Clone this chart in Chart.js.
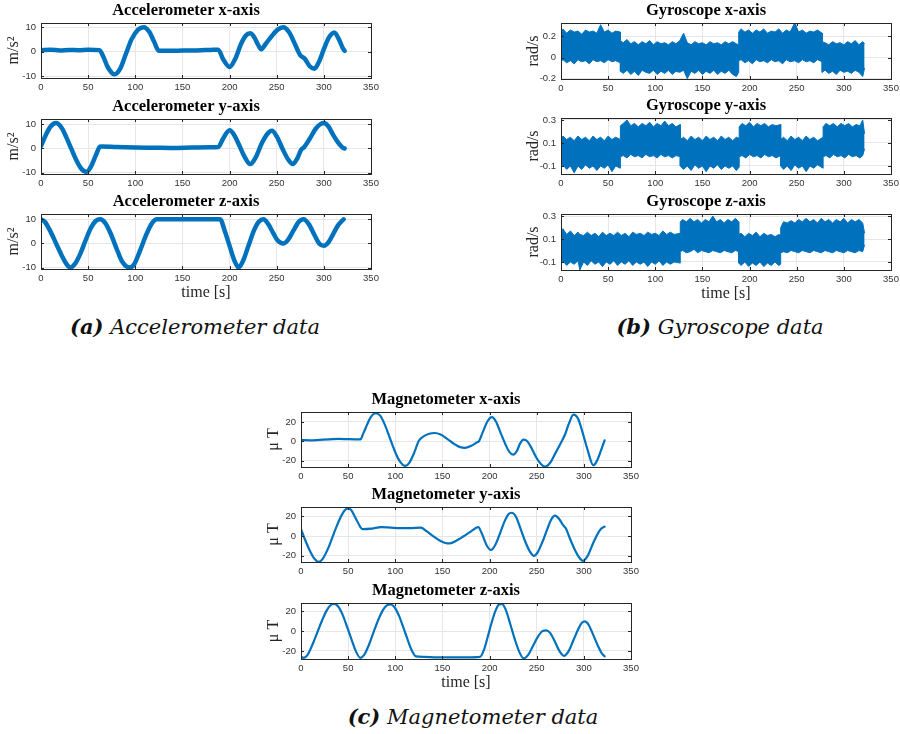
<!DOCTYPE html>
<html>
<head>
<meta charset="utf-8">
<script src="https://cdn.jsdelivr.net/npm/chart.js@4.4.1/dist/chart.umd.min.js"></script>
<style>
body { margin: 0; background: #fff; }
#page { position: relative; width: 900px; height: 734px; overflow: hidden; background: #fff; }
#page canvas { position: absolute; }
.caption { position: absolute; width: 340px; text-align: center; white-space: nowrap;
  font-family: 'DejaVu Serif', serif; font-style: italic; font-size: 21px; color: #111; }
</style>
</head>
<body>
<div id="page">
  <div class="caption" style="left:25px;top:314px"><b>(a)</b> Accelerometer data</div>
  <div class="caption" style="left:550px;top:314px"><b>(b)</b> Gyroscope data</div>
  <div class="caption" style="left:303px;top:704px"><b>(c)</b> Magnetometer data</div>
</div>
<script>
// tick labels
const timeTicks = [0, 50, 100, 150, 200, 250, 300, 350];
const accTicks = [-10, 0, 10];
const gyroXTicks = [-0.2, 0, 0.2];
const gyroTicks = [-0.1, 0, 0.1, 0.2, 0.3];
const magTicks = [-20, 0, 20];

// accelerometer [time s, m/s^2]
const accX = [[0, 0.6], [10, 0.8], [20, 0.5], [30, 0.7], [40, 0.6], [50, 0.8], [62, 0.6], [66, -2], [71, -6.5],
  [78, -9.3], [84, -7], [90, -1], [96, 5], [103, 9], [109, 10], [115, 8], [120, 4], [125, 0.3], [135, 0.3],
  [150, 0.4], [165, 0.5], [180, 0.7], [188, 0.8], [193, -3], [200, -6.3], [206, -3], [212, 3], [217, 6.5],
  [222, 7.5], [226, 6], [230, 3], [233.5, 1], [238, 3], [245, 6.5], [251, 9], [257, 10], [263, 8], [270, 2.5],
  [275, -1.5], [280, -3], [285, -6], [290, -7], [295, -4], [300, 1], [305, 5.5], [311, 7.8], [316, 5],
  [320, 1.5], [322, 0.3]];
const accY = [[0, 1], [5, 5.5], [10, 9], [16, 10.5], [22, 8.5], [27, 4.5], [32, 0], [37, -4.5], [42, -8],
  [48, -9.7], [53, -7.5], [58, -3], [62, 0.5], [64, 0.8], [80, 0.6], [100, 0.4], [120, 0.3], [140, 0.2],
  [160, 0.4], [180, 0.5], [188, 0.6], [193, 4], [200, 7.5], [205, 5.5], [210, 1.5], [216, -3.5], [222, -6.5],
  [228, -3.5], [234, 2], [240, 6], [245, 7.3], [250, 5], [256, 0], [262, -4.5], [267, -6.5], [272, -4],
  [276, -0.5], [279, 0.5], [285, 4], [292, 8.5], [300, 10.5], [305, 9], [310, 5.5], [315, 2.5], [320, 0.3],
  [322, 0]];
const accZ = [[0, 10], [4, 9], [10, 5], [16, 0], [22, -5], [27, -8.5], [31, -10], [36, -8.5], [42, -4], [47, 1],
  [53, 6.5], [58, 9.3], [63, 10], [68, 8.5], [74, 4], [80, -2], [86, -7.5], [94, -10], [99, -8.5], [105, -3],
  [111, 3], [117, 8], [123, 10], [135, 10], [150, 10], [165, 10], [180, 10], [190, 10], [195, 5], [200, -1],
  [205, -7], [209.5, -10], [214, -7.5], [220, -1], [226, 5.5], [231, 9], [236, 10], [241, 8], [246, 4.5],
  [251, 1.2], [257, 0], [262, 1.5], [268, 5.5], [273, 8.8], [278.5, 10], [284, 8], [290, 3.5], [295, 0],
  [300, -1], [305, 0.5], [310, 4], [315, 7.5], [321, 10]];

// gyroscope noise band [time s, low rad/s, high rad/s]
const gyroX = [[0, -0.04, 0.21], [2, -0.02, 0.27], [6, -0.05, 0.23], [10, -0.03, 0.26], [14, -0.06, 0.24],
  [18, -0.02, 0.25], [22, -0.04, 0.22], [26, -0.03, 0.26], [30, -0.06, 0.24], [34, -0.02, 0.25],
  [38, -0.04, 0.23], [42, -0.03, 0.31], [46, -0.05, 0.24], [50, -0.02, 0.26], [54, -0.04, 0.23],
  [58, -0.03, 0.25], [63, -0.05, 0.24], [63, -0.13, 0.16], [66, -0.15, 0.14], [70, -0.12, 0.17],
  [74, -0.16, 0.13], [78, -0.13, 0.15], [82, -0.17, 0.12], [86, -0.12, 0.15], [90, -0.14, 0.13],
  [94, -0.15, 0.16], [98, -0.12, 0.12], [102, -0.16, 0.15], [106, -0.13, 0.13], [110, -0.15, 0.14],
  [114, -0.12, 0.12], [118, -0.16, 0.15], [122, -0.13, 0.13], [126, -0.14, 0.16], [130, -0.12, 0.23],
  [134, -0.2, 0.14], [138, -0.13, 0.12], [142, -0.15, 0.15], [146, -0.12, 0.13], [150, -0.16, 0.14],
  [154, -0.13, 0.12], [158, -0.15, 0.15], [162, -0.12, 0.13], [166, -0.16, 0.14], [170, -0.13, 0.12],
  [174, -0.15, 0.15], [178, -0.12, 0.13], [182, -0.16, 0.15], [186, -0.18, 0.13], [188.5, -0.14, 0.12],
  [188.5, -0.03, 0.24], [191, -0.02, 0.27], [195, -0.05, 0.24], [199, -0.03, 0.26], [203, -0.06, 0.23],
  [207, -0.02, 0.26], [211, -0.04, 0.24], [215, -0.03, 0.27], [219, -0.05, 0.23], [223, -0.02, 0.25],
  [227, -0.04, 0.24], [231, -0.03, 0.27], [235, -0.06, 0.23], [239, -0.02, 0.26], [243, -0.04, 0.24],
  [248, -0.03, 0.33], [252, -0.05, 0.24], [256, -0.02, 0.26], [260, -0.04, 0.23], [264, -0.03, 0.25],
  [268, -0.05, 0.24], [272, -0.02, 0.26], [277, -0.04, 0.23], [277, -0.14, 0.15], [280, -0.12, 0.14],
  [284, -0.15, 0.12], [288, -0.13, 0.15], [292, -0.16, 0.13], [296, -0.12, 0.14], [300, -0.14, 0.12],
  [304, -0.13, 0.15], [308, -0.15, 0.13], [312, -0.12, 0.16], [316, -0.14, 0.12], [320, -0.18, 0.15],
  [322, -0.1, 0.13]];
const gyroY = [[0, -0.12, 0.12], [2, -0.09, 0.16], [6, -0.13, 0.13], [10, -0.1, 0.15], [14, -0.16, 0.12],
  [18, -0.1, 0.16], [22, -0.13, 0.13], [26, -0.09, 0.15], [30, -0.12, 0.12], [34, -0.1, 0.16],
  [38, -0.14, 0.13], [42, -0.1, 0.15], [46, -0.12, 0.12], [50, -0.09, 0.16], [54, -0.15, 0.13],
  [58, -0.1, 0.15], [63, -0.12, 0.13], [63, -0.02, 0.25], [66, -0.01, 0.27], [70, -0.03, 0.3],
  [74, 0, 0.25], [78, -0.02, 0.27], [82, -0.01, 0.24], [86, -0.03, 0.27], [90, 0, 0.25], [94, -0.02, 0.28],
  [98, -0.01, 0.24], [102, -0.03, 0.27], [106, 0, 0.25], [110, -0.02, 0.29], [114, -0.01, 0.25],
  [118, -0.03, 0.27], [122, -0.01, 0.24], [126.5, -0.02, 0.26], [126.5, -0.1, 0.13], [130, -0.13, 0.15],
  [134, -0.1, 0.12], [138, -0.14, 0.16], [142, -0.09, 0.13], [146, -0.12, 0.15], [150, -0.1, 0.12],
  [154, -0.15, 0.16], [158, -0.1, 0.13], [162, -0.12, 0.15], [166, -0.09, 0.12], [170, -0.13, 0.16],
  [174, -0.1, 0.13], [178, -0.12, 0.15], [182, -0.1, 0.12], [186, -0.14, 0.15], [189, -0.11, 0.14],
  [189, -0.02, 0.24], [192, -0.01, 0.27], [196, -0.03, 0.25], [200, 0, 0.28], [204, -0.02, 0.24],
  [208, -0.01, 0.27], [212, -0.03, 0.25], [216, 0, 0.27], [220, -0.02, 0.24], [224, -0.01, 0.26],
  [228, -0.03, 0.25], [233, -0.01, 0.26], [233, -0.1, 0.13], [236, -0.13, 0.15], [240, -0.1, 0.12],
  [244, -0.14, 0.16], [248, -0.09, 0.13], [252, -0.12, 0.15], [256, -0.1, 0.12], [260, -0.15, 0.16],
  [264, -0.1, 0.13], [268, -0.12, 0.15], [272, -0.09, 0.12], [278, -0.12, 0.15], [278, -0.02, 0.24],
  [281, -0.01, 0.27], [285, -0.03, 0.25], [289, 0, 0.27], [293, -0.02, 0.24], [297, -0.01, 0.27],
  [301, -0.03, 0.25], [305, 0, 0.27], [309, -0.02, 0.24], [313, -0.01, 0.26], [317, -0.03, 0.25],
  [320, -0.01, 0.3], [322, 0.05, 0.18]];
const gyroZ = [[0, -0.12, 0.15], [2, -0.09, 0.19], [6, -0.13, 0.14], [10, -0.1, 0.17], [14, -0.12, 0.13],
  [18, -0.09, 0.16], [20, -0.17, 0.14], [24, -0.1, 0.13], [28, -0.13, 0.16], [32, -0.09, 0.13],
  [36, -0.12, 0.15], [40, -0.1, 0.12], [44, -0.14, 0.16], [48, -0.1, 0.13], [52, -0.12, 0.15],
  [56, -0.09, 0.13], [60, -0.13, 0.16], [64, -0.1, 0.13], [68, -0.12, 0.15], [72, -0.09, 0.12],
  [76, -0.13, 0.16], [80, -0.1, 0.14], [84, -0.12, 0.15], [88, -0.1, 0.13], [92, -0.14, 0.16],
  [96, -0.1, 0.14], [100, -0.12, 0.15], [104, -0.09, 0.13], [108, -0.13, 0.17], [112, -0.1, 0.14],
  [116, -0.12, 0.16], [120, -0.1, 0.14], [126.5, -0.11, 0.15], [126.5, -0.01, 0.25], [129, 0, 0.27],
  [133, -0.02, 0.25], [137, -0.01, 0.28], [141, 0.01, 0.25], [145, -0.02, 0.27], [149, 0, 0.24],
  [153, -0.01, 0.27], [157, -0.02, 0.25], [161, 0, 0.3], [165, -0.01, 0.25], [169, -0.02, 0.27],
  [173, 0, 0.24], [177, -0.01, 0.27], [181, -0.02, 0.25], [185, 0, 0.28], [188.5, -0.01, 0.25],
  [188.5, -0.11, 0.14], [191, -0.13, 0.15], [195, -0.1, 0.12], [199, -0.14, 0.15], [203, -0.11, 0.13],
  [207, -0.13, 0.16], [211, -0.1, 0.12], [215, -0.14, 0.15], [219, -0.11, 0.13], [223, -0.13, 0.14],
  [227, -0.1, 0.12], [231, -0.13, 0.14], [233, -0.12, 0.13], [233, -0.02, 0.2], [236, -0.01, 0.25],
  [240, -0.02, 0.24], [244, 0, 0.26], [248, -0.01, 0.24], [252, -0.02, 0.27], [256, 0, 0.25],
  [260, -0.01, 0.28], [264, -0.02, 0.25], [268, 0, 0.27], [272, -0.01, 0.24], [276, -0.02, 0.28],
  [280, 0, 0.25], [284, -0.01, 0.27], [288, -0.02, 0.24], [292, 0, 0.27], [296, -0.01, 0.25],
  [300, -0.02, 0.28], [304, 0, 0.24], [308, -0.01, 0.27], [312, -0.02, 0.25], [316, 0, 0.27],
  [320, -0.01, 0.24], [322, 0.05, 0.15]];

// magnetometer [time s, uT]
const magX = [[0, 1.2], [10, 1], [20, 1.5], [30, 2], [40, 2.5], [50, 2.2], [63, 2], [66, 8], [70, 17],
  [74, 25], [79, 29], [84, 26.5], [89, 17], [94, 4], [99, -9], [104, -19.5], [110.5, -25.5], [115, -22],
  [120, -12], [125, 0.5], [130, 5], [136, 7.8], [142, 8.6], [148, 7], [155, 2.5], [162, -2.5], [168, -5.8],
  [174, -6.9], [180, -5], [186, -1.5], [189, 0.5], [193, 10], [198, 21], [202.5, 25], [207, 20], [212, 8],
  [217, -3.5], [221, -11], [225, -13.8], [229, -10], [232, -3], [236, 1.7], [240, 0], [245, -8],
  [250, -17.5], [255, -24], [259, -26.3], [264, -22.5], [270, -12], [276, -1], [280, 7], [284, 18],
  [289, 27.5], [294, 23], [299, 8], [304, -9], [310, -24.8], [314, -20], [318, -10], [322, 1]];
const magY = [[0, 7], [4, -3], [9, -14], [14, -22.5], [18.5, -26], [23, -23], [29, -12], [35, 3], [41, 17],
  [46, 25.5], [49.5, 28], [53, 26.5], [58, 18], [63, 9], [65, 7], [75, 7.5], [85, 9], [95, 8.5], [105, 8],
  [115, 8], [127, 8.5], [133, 5], [140, 0], [147, -4.5], [153, -7], [158, -7.5], [165, -4.5], [172, -0.5],
  [180, 4.5], [188, 9], [192, 2], [197, -9.5], [201.5, -14], [206, -9], [211, 2.5], [216, 15], [220, 22],
  [223.5, 23.5], [228, 19.5], [233, 7], [238, -6], [243, -16], [247, -20], [251, -16.5], [256, -6],
  [261, 6.5], [265, 16], [269.5, 20.5], [274, 17], [278, 11], [281, 7.5], [285, -2], [290, -13],
  [295, -21.5], [299, -25], [304, -20], [309, -9], [314, 1], [318, 7], [322, 9.5]];
const magZ = [[0, -26], [3, -27], [7, -24], [12, -14], [17, -2], [22, 10], [27, 20.5], [31, 26], [35, 27.5],
  [39, 25.5], [44, 17], [49, 4], [54, -9.5], [58, -20], [63, -27], [67, -24], [72, -14], [77, -1],
  [82, 11.5], [87, 21.5], [91, 26], [95, 27], [99, 24.5], [104, 15.5], [109, 2.5], [114, -11],
  [118, -20.5], [122, -25.5], [130, -26], [145, -26.5], [160, -26.5], [175, -26.5], [190, -26], [194, -19],
  [198, -6], [202, 8], [206, 20], [210, 27], [213, 27.5], [217, 22], [222, 7], [227, -9], [232, -22],
  [236, -27.5], [241, -24], [246, -15], [251, -6], [256, 0], [260, 0.8], [264, -1.5], [269, -10],
  [274, -20], [279, -25], [284, -20], [289, -9], [294, 2], [298, 8.5], [301, 9.8], [305, 6.5], [310, -4],
  [315, -15], [319, -22.5], [322, -25.5]];

const blue = '#0072BD';
const page = document.getElementById('page');
Chart.defaults.font.family = 'Liberation Sans';

// Matlab style box with inward ticks
const boxPlugin = {
  id: 'box',
  afterDatasetsDraw(chart) {
    const { ctx, chartArea: a, scales } = chart;
    ctx.save();
    ctx.strokeStyle = '#262626';
    ctx.lineWidth = 1;
    ctx.beginPath();
    scales.x.ticks.forEach(t => {
      const px = Math.round(scales.x.getPixelForValue(t.value)) + 0.5;
      ctx.moveTo(px, a.bottom); ctx.lineTo(px, a.bottom - 3);
      ctx.moveTo(px, a.top); ctx.lineTo(px, a.top + 3);
    });
    scales.y.ticks.forEach(t => {
      const py = Math.round(scales.y.getPixelForValue(t.value)) + 0.5;
      ctx.moveTo(a.left, py); ctx.lineTo(a.left + 3, py);
      ctx.moveTo(a.right, py); ctx.lineTo(a.right - 3, py);
    });
    ctx.stroke();
    ctx.strokeRect(Math.round(a.left) + 0.5, Math.round(a.top) + 0.5,
      Math.round(a.right - a.left), Math.round(a.bottom - a.top));
    ctx.restore();
  }
};

function lineSet(rows, width) {
  return {
    data: rows.map(r => ({ x: r[0], y: r[1] })),
    borderColor: blue, borderWidth: width, pointRadius: 0,
    cubicInterpolationMode: 'monotone', borderJoinStyle: 'round', borderCapStyle: 'round',
    fill: false, clip: 0
  };
}

function bandSets(rows) {
  const lo = { data: rows.map(r => ({ x: r[0], y: r[1] })), borderColor: blue, borderWidth: 1,
    pointRadius: 0, tension: 0, fill: false, clip: 0 };
  const hi = { data: rows.map(r => ({ x: r[0], y: r[2] })), borderColor: blue, borderWidth: 1,
    pointRadius: 0, tension: 0, fill: '-1', backgroundColor: blue, clip: 0 };
  return [lo, hi];
}

function makePlot(p) {
  const yW = 40, titleH = 23, padR = 12;
  const xH = p.xTitle ? 33 : 15;
  const canvas = document.createElement('canvas');
  canvas.width = yW + p.w + padR;
  canvas.height = titleH + p.h + xH;
  canvas.style.left = (p.left - yW) + 'px';
  canvas.style.top = (p.top - titleH) + 'px';
  page.appendChild(canvas);

  new Chart(canvas, {
    type: 'line',
    data: { datasets: p.datasets },
    plugins: [boxPlugin],
    options: {
      responsive: false,
      animation: false,
      events: [],
      layout: { padding: { left: 0, right: padR, top: 0, bottom: 0 } },
      plugins: {
        legend: { display: false },
        tooltip: { enabled: false },
        title: {
          display: true, text: p.title, color: '#000',
          font: { family: 'Liberation Serif', size: 16.5, weight: 'bold', lineHeight: 1.2 },
          padding: { top: 1, bottom: 2.2 }
        }
      },
      scales: {
        x: {
          type: 'linear', min: 0, max: 350,
          afterBuildTicks: s => { s.ticks = timeTicks.map(v => ({ value: v })); },
          afterFit: s => { s.height = xH; },
          grid: { color: '#e6e6e6', drawTicks: false },
          border: { display: false },
          ticks: { color: '#333', font: { size: 9.5 }, padding: 4, maxRotation: 0, callback: v => String(v) },
          title: {
            display: !!p.xTitle, text: p.xTitle || '', color: '#262626',
            font: { family: 'Liberation Serif', size: 16 }, padding: { top: 0, bottom: 0 }
          }
        },
        y: {
          min: p.yMin, max: p.yMax,
          afterBuildTicks: s => { s.ticks = p.yTicks.map(v => ({ value: v })); },
          afterFit: s => { s.width = yW; },
          grid: { color: '#e6e6e6', drawTicks: false },
          border: { display: false },
          ticks: { color: '#333', font: { size: 9.5 }, padding: 5, callback: v => String(v) },
          title: {
            display: true, text: p.yTitle, color: '#262626',
            font: { family: 'Liberation Serif', size: 16 }, padding: { top: 3, bottom: 0 }
          }
        }
      }
    }
  });
}

// accelerometer column
makePlot({ left: 41, top: 23, w: 330, h: 55, title: 'Accelerometer x-axis', yTitle: 'm/s²',
  yMin: -10.8, yMax: 11.7, yTicks: accTicks, datasets: [lineSet(accX, 4.5)] });
makePlot({ left: 41, top: 119, w: 330, h: 55, title: 'Accelerometer y-axis', yTitle: 'm/s²',
  yMin: -10.6, yMax: 12.2, yTicks: accTicks, datasets: [lineSet(accY, 4.5)] });
makePlot({ left: 41, top: 214, w: 330, h: 55, title: 'Accelerometer z-axis', yTitle: 'm/s²',
  yMin: -10.6, yMax: 12.2, yTicks: accTicks, datasets: [lineSet(accZ, 4.5)], xTitle: 'time [s]' });

// gyroscope column
makePlot({ left: 561, top: 23, w: 330, h: 56, title: 'Gyroscope x-axis', yTitle: 'rad/s',
  yMin: -0.203, yMax: 0.326, yTicks: gyroXTicks, datasets: bandSets(gyroX) });
makePlot({ left: 561, top: 118, w: 330, h: 56, title: 'Gyroscope y-axis', yTitle: 'rad/s',
  yMin: -0.17, yMax: 0.317, yTicks: gyroTicks, datasets: bandSets(gyroY) });
makePlot({ left: 561, top: 214, w: 330, h: 56, title: 'Gyroscope z-axis', yTitle: 'rad/s',
  yMin: -0.17, yMax: 0.318, yTicks: gyroTicks, datasets: bandSets(gyroZ), xTitle: 'time [s]' });

// magnetometer
makePlot({ left: 301, top: 412, w: 330, h: 55, title: 'Magnetometer x-axis', yTitle: 'μ T',
  yMin: -26.6, yMax: 30.3, yTicks: magTicks, datasets: [lineSet(magX, 2.2)] });
makePlot({ left: 301, top: 507, w: 330, h: 55, title: 'Magnetometer y-axis', yTitle: 'μ T',
  yMin: -26.2, yMax: 29.3, yTicks: magTicks, datasets: [lineSet(magY, 2.2)] });
makePlot({ left: 301, top: 603, w: 330, h: 56, title: 'Magnetometer z-axis', yTitle: 'μ T',
  yMin: -28.2, yMax: 28.5, yTicks: magTicks, datasets: [lineSet(magZ, 2.2)], xTitle: 'time [s]' });
</script>
</body>
</html>
